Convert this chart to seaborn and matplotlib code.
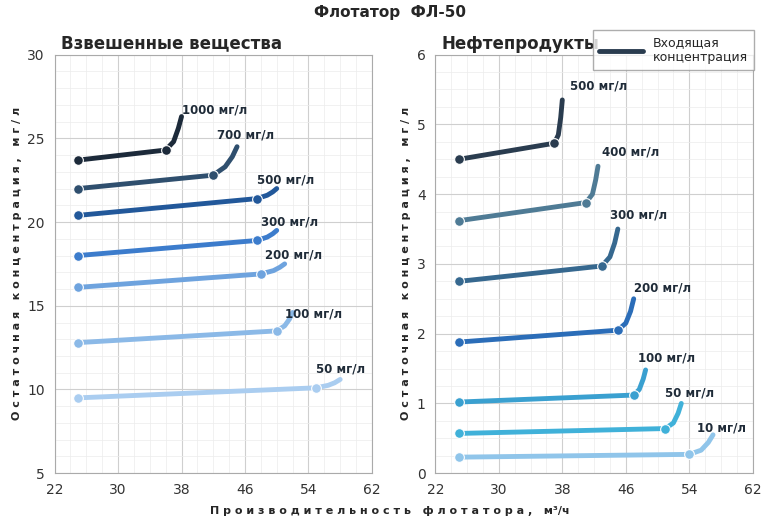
import numpy as np
import seaborn as sns
import matplotlib.pyplot as plt
from matplotlib.lines import Line2D

sns.set_style("whitegrid")
plt.rcParams['font.family'] = ['DejaVu Sans']

# Взвешенные вещества: x / y points per curve; markers on the first two points
left_labels = ['1000 мг/л', '700 мг/л', '500 мг/л', '300 мг/л', '200 мг/л', '100 мг/л', '50 мг/л']
left_x = [[25, 36, 37, 37.6, 38], [25, 42, 43.5, 44.4, 45], [25, 47.5, 48.8, 49.5, 50],
          [25, 47.5, 48.8, 49.5, 50], [25, 48, 49.6, 50.4, 51], [25, 50, 51, 51.6, 52],
          [25, 55, 56.5, 57.3, 58]]
left_y = [[23.7, 24.3, 24.8, 25.6, 26.3], [22.0, 22.8, 23.3, 23.9, 24.5], [20.4, 21.4, 21.6, 21.8, 22.0],
          [18.0, 18.9, 19.1, 19.3, 19.5], [16.1, 16.9, 17.1, 17.3, 17.5], [12.8, 13.5, 13.8, 14.2, 14.6],
          [9.5, 10.1, 10.25, 10.4, 10.6]]
left_colors = ['#1c2a3a', '#2f4f6e', '#22589a', '#3c7ccc', '#6ea3de', '#8bb9e7', '#aacdf0']
left_label_pos = [(38, 26.5), (42.5, 25.0), (47.5, 22.3), (48, 19.8), (48.5, 17.8), (51, 14.3), (55, 11.0)]

# Нефтепродукты
right_labels = ['500 мг/л', '400 мг/л', '300 мг/л', '200 мг/л', '100 мг/л', '50 мг/л', '10 мг/л']
right_x = [[25, 37, 37.5, 37.8, 38], [25, 41, 41.8, 42.2, 42.5], [25, 43, 44, 44.6, 45],
           [25, 45, 46, 46.6, 47], [25, 47, 47.7, 48.2, 48.5], [25, 51, 52, 52.6, 53],
           [25, 54, 55.5, 56.4, 57]]
right_y = [[4.5, 4.73, 4.85, 5.1, 5.35], [3.62, 3.88, 4.0, 4.2, 4.4], [2.75, 2.97, 3.1, 3.3, 3.5],
           [1.88, 2.05, 2.15, 2.32, 2.5], [1.02, 1.12, 1.2, 1.35, 1.48], [0.57, 0.64, 0.72, 0.86, 1.0],
           [0.23, 0.27, 0.33, 0.44, 0.55]]
right_colors = ['#2a3c4f', '#4f7b95', '#36688f', '#2b6db8', '#3aa0d0', '#40b1d9', '#90c5ea']
right_label_pos = [(39, 5.5), (43, 4.55), (44, 3.65), (47, 2.6), (47.5, 1.6), (51, 1.1), (55, 0.6)]

fig, axes = plt.subplots(1, 2, figsize=(7.8, 5.2), dpi=100)


def draw(ax, xs, ys, colors, labels, label_pos, ylim, yticks, minor_y, title):
    for x, y, c, lab, pos in zip(xs, ys, colors, labels, label_pos):
        sns.lineplot(x=x, y=y, ax=ax, color=c, lw=3.5, sort=False)
        ax.plot(x[:2], y[:2], 'o', color=c, ms=7, markeredgecolor='white', markeredgewidth=0.8)
        ax.text(pos[0], pos[1], lab, fontsize=8.5, fontweight='bold', color='#1f2b38')
    ax.set_xlim(22, 62)
    ax.set_ylim(*ylim)
    ax.set_xticks([22, 30, 38, 46, 54, 62])
    ax.set_yticks(yticks)
    ax.set_xticks(np.arange(22, 63, 2), minor=True)
    ax.set_yticks(minor_y, minor=True)
    ax.grid(which='major', color='#cfcfcf', lw=0.8)
    ax.grid(which='minor', color='#ececec', lw=0.5)
    ax.tick_params(labelsize=10, colors='#333333')
    for s in ax.spines.values():
        s.set_color('#aaaaaa')
    ax.text(0.02, 1.005, title, transform=ax.transAxes, fontsize=12, fontweight='bold', va='bottom')
    ax.set_ylabel('О с т а т о ч н а я   к о н ц е н т р а ц и я ,   м г / л',
                  fontsize=8, fontweight='bold')


draw(axes[0], left_x, left_y, left_colors, left_labels, left_label_pos, (5, 30),
     [5, 10, 15, 20, 25, 30], np.arange(5, 30.1, 1), 'Взвешенные вещества')
draw(axes[1], right_x, right_y, right_colors, right_labels, right_label_pos, (0, 6),
     [0, 1, 2, 3, 4, 5, 6], np.arange(0, 6.01, 0.25), 'Нефтепродукты')

fig.suptitle('Флотатор  ФЛ-50', fontsize=11, fontweight='bold', y=0.99)
fig.text(0.5, 0.012, 'П р о и з в о д и т е л ь н о с т ь   ф л о т а т о р а ,   м³/ч',
         ha='center', fontsize=8, fontweight='bold')

handle = Line2D([0], [0], color='#2a3c4f', lw=3.5)
leg = fig.legend([handle], ['Входящая\nконцентрация'], loc='upper right',
                 bbox_to_anchor=(0.975, 0.955), fontsize=9, frameon=True, fancybox=False,
                 handlelength=3.5, borderpad=0.5)
leg.get_frame().set_edgecolor('#999999')

plt.subplots_adjust(left=0.07, right=0.965, top=0.895, bottom=0.09, wspace=0.2)
fig.savefig('out.png', dpi=100)
